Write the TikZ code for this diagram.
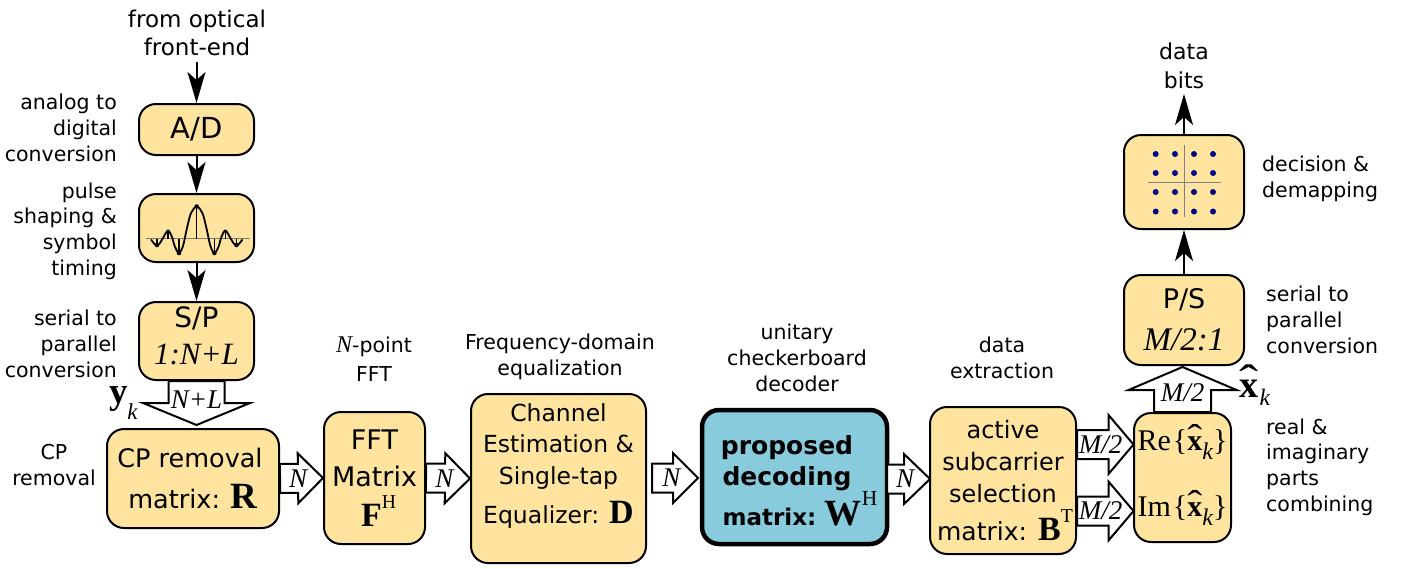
\documentclass[tikz,border=0pt]{standalone}
\usepackage{fontspec}
\setmainfont{DejaVu Sans}
\newfontfamily\serfont{Liberation Serif}
\usetikzlibrary{arrows.meta}
\usetikzlibrary{calc}
\definecolor{boxyellow}{HTML}{FFE49F}
\definecolor{boxblue}{HTML}{87CBDD}
\definecolor{axisgray}{HTML}{80808F}
\definecolor{pulsegray}{HTML}{807B6A}
\newcommand{\fs}[2]{\fontsize{#1}{#2}\selectfont}
\newcommand{\mi}[2]{{\serfont\itshape\fs{#1}{#1}#2}}
\newcommand{\mb}[2]{{\serfont\bfseries\fs{#1}{#1}#2}}
\newcommand{\supchar}[1]{\raisebox{.52em}{\scalebox{.58}{\mdseries #1}}}
\newcommand{\subk}{\raisebox{-.3em}{\scalebox{.8}{\mdseries\itshape k}}}
\newcommand{\subkb}[1]{\raisebox{-#1em}{\scalebox{.62}{\mdseries\itshape k}}}
\newcommand{\xhat}{\ooalign{x\cr\hfil\raisebox{.02em}{\scalebox{1.5}[1.2]{\mdseries\char"02C6}}\hfil\cr}}
\newcommand{\padup}[1]{\rule[-#1pt]{0pt}{#1pt}}
\newcommand{\blockarrow}[7]{%
  \coordinate (#1base) at ($(#3)!#6pt!(#2)$);
  \draw[blockline] ($(#2)!#4pt!90:(#3)$) -- ($(#1base)!#4pt!90:(#3)$) -- ($(#1base)!#5pt!90:(#3)$) -- (#3)
    -- ($(#1base)!#5pt!-90:(#3)$) -- ($(#1base)!#4pt!-90:(#3)$) -- ($(#2)!#4pt!-90:(#3)$) -- cycle;
  \node[arrowtext] (#1) at ($(#2)!.42!(#3)$) {#7};
}
\tikzset{
  block/.style={draw, fill=boxyellow, line width=2pt, rounded corners=17pt, align=center, inner sep=0pt, anchor=center},
  note/.style={font=\fs{20.5}{25.7}, inner sep=0pt, anchor=center},
  blockline/.style={draw, fill=white, line width=2pt, miter limit=10},
  arrowtext/.style={inner sep=0pt, font=\serfont\itshape\fs{27}{27}},
  flow/.style={line width=2pt, -{Stealth[length=31pt,width=18pt,inset=8pt]}},
}
\begin{document}
\begin{tikzpicture}[x=1pt, y=-1pt]
  \useasboundingbox (0, 0) rectangle (1407, 568);
  % blocks
  \node[block, minimum width=115pt, minimum height=51pt, font=\fs{29}{29}] (ad) at (196.5, 129.5) {A/D};
  \node[block, minimum width=115pt, minimum height=68pt] (pulse) at (196.5, 228) {};
  \node[block, minimum width=115pt, minimum height=78pt, font=\fs{28}{37}] (sp) at (196.5, 341) {S/P\\\mi{31}{1:N+L}\padup{11}};
  \node[block, minimum width=172pt, minimum height=99pt, font=\fs{25.5}{41}] (cp) at (193, 478.5) {CP removal\hspace*{6pt}\\matrix: \mb{37}{R}};
  \node[block, minimum width=101pt, minimum height=132pt, font=\fs{27}{37}] (fft) at (374.5, 478) {FFT\\Matrix\\[3pt]\hspace*{8pt}\mb{34}{F}{\serfont\fs{34}{34}\supchar{H}}};
  \node[block, minimum width=175pt, minimum height=169pt, font=\fs{23.5}{31.5}] (eq) at (558.5, 478.5) {Channel\\Estimation \&\\Single-tap\\[8pt]Equalizer: \mb{34}{D}\padup{30}};
  \node[block, fill=boxblue, line width=4.5pt, minimum width=185pt, minimum height=134pt, font=\bfseries\fs{25}{31}] (dec) at (794.5, 477) {\rule{0pt}{26pt}proposed\hspace*{15pt}\\\hspace*{-15pt}decoding\\\hspace*{11pt}{\fs{23}{31}matrix:}\hspace{-3pt} {\serfont\fs{37}{37}W\supchar{H}}};
  \node[block, minimum width=146pt, minimum height=147pt, font=\fs{24}{32}] (sel) at (1003, 480.5) {active\\subcarrier\\selection\\[6pt]\hspace*{4pt}{\fs{25}{32}matrix:}\hspace{1pt} \mb{34}{B}{\serfont\fs{34}{34}\supchar{T}}};
  \node[block, minimum width=97pt, minimum height=129pt, font=\serfont\fs{30}{66}] (comb) at (1182.5, 477.5) {Re\hspace{2pt}\{\mb{30}{\xhat}\subk\}\\Im\hspace{2pt}\{\mb{30}{\xhat}\subk\}};
  \node[block, minimum width=120pt, minimum height=90pt, font=\fs{27}{42}] (ps) at (1184, 320) {P/S\\\mi{33}{M/2:1}};
  \node[block, minimum width=120pt, minimum height=94pt] (map) at (1184, 182) {};
  % pulse
  \draw[pulsegray, line width=1.5pt] (146, 238.5) -- (250, 238.5);
  \foreach \px/\py in {157/245, 168/230.5, 179/253, 196.7/206.5, 214.4/253, 225.4/230.5, 236.4/245}
    \draw[line width=1.4pt] (\px, 238.5) -- (\px, \py);
  \draw[line width=1.8pt] plot[smooth] coordinates {(151,239.5) (154,243.5) (157,245.5) (160,243) (163,238) (168,230.5) (172,237) (175,247) (179,253) (183,246) (187,228) (191,213) (196.7,206.5) (202.4,213) (206.4,228) (210.4,246) (214.4,253) (218.4,247) (221.4,237) (225.4,230.5) (230.4,238) (233.4,243) (236.4,245.5) (239.4,243.5) (242.4,239.5)};
  \foreach \px/\py in {157/245, 179/253, 196.7/206.5, 214.4/253, 236.4/245}
    \fill (\px, \py) circle (2.3);
  % constellation
  \draw[axisgray, line width=1pt] (1148, 182.3) -- (1221, 182.3);
  \draw[axisgray, line width=1pt] (1184.3, 145) -- (1184.3, 217);
  \foreach \px in {1155.7, 1175, 1194, 1213}
    \foreach \py in {154, 173, 192, 211.5}
      \fill[blue!50!black] (\px, \py) circle (3);
  % plain arrows
  \coordinate (in) at (196.5, 62);
  \coordinate (out) at (1184, 94);
  \draw[flow] (in) -- (ad);
  \draw[flow] (ad) -- (pulse);
  \draw[flow] (pulse) -- (sp);
  \draw[flow] (ps) -- (map);
  \draw[flow] (map) -- (out);
  % block arrows
  \coordinate (cpin) at (196.5, 425);
  \blockarrow{spcp}{sp.south}{cpin}{28}{53.5}{22}{N+L}
  \blockarrow{cpfft}{cp.east}{fft.west}{14.5}{25}{25}{N}
  \blockarrow{ffteq}{fft.east}{eq.west}{14.5}{25}{25}{N}
  \coordinate (eqgap) at (652, 478);
  \coordinate (decin) at (698, 478);
  \blockarrow{eqdec}{eqgap}{decin}{14.5}{25}{25}{N}
  \coordinate (decout) at (887, 479);
  \coordinate (selin) at (930, 479);
  \blockarrow{decsel}{decout}{selin}{14.5}{25}{26}{N}
  \coordinate (combreA) at (1133.5, 444.5);
  \coordinate (combimA) at (1133.5, 511);
  \coordinate (selreA) at (sel.east |- combreA);
  \coordinate (selimA) at (sel.east |- combimA);
  \blockarrow{selre}{selreA}{combreA}{14.5}{29.5}{25}{M/2}
  \blockarrow{selim}{selimA}{combimA}{14.5}{29.5}{25}{M/2}
  \coordinate (psin) at (1182.5, 367);
  \blockarrow{combps}{comb.north}{psin}{28.5}{54}{23}{M/2}
  % texts
  \node[note, font=\fs{23}{28}, align=center] (fromtxt) at (197, 33) {from optical\\front-end};
  \node[note, align=right, anchor=east] (adtxt) at (117, 128) {analog to\\digital\\conversion};
  \node[note, align=right, anchor=east] (pulsetxt) at (117, 231) {pulse\\shaping \&\\symbol\\timing};
  \node[note, align=right, anchor=east] (sptxt) at (117, 344) {serial to\\parallel\\conversion};
  \node[note, align=center] (cptxt) at (54, 465) {CP\\removal};
  \node[note, font=\fs{20.5}{29}, align=center] (ffttxt) at (374, 359.5) {\mi{24}{N}-point\\FFT};
  \node[note, align=center] (eqtxt) at (560, 357) {Frequency-domain\\equalization};
  \node[note, align=center] (dectxt) at (797, 358) {unitary\\checkerboard\\decoder};
  \node[note, align=center] (seltxt) at (1002, 358) {data\\extraction};
  \node[note, align=left, anchor=west] (maptxt) at (1262, 179) {decision \&\\demapping};
  \node[note, align=left, anchor=west] (pstxt) at (1266, 320) {serial to\\parallel\\conversion};
  \node[note, align=left, anchor=west] (combtxt) at (1266, 467) {real \&\\imaginary\\parts\\combining};
  \node[note, font=\fs{22}{29}, align=center] (bitstxt) at (1184, 66) {data\\bits};
  \node[inner sep=0pt, font=\serfont\bfseries\fs{37}{37}] (yk) at (123.5, 403) {y\hspace{-.02em}\subkb{.43}};
  \node[inner sep=0pt, font=\serfont\bfseries\fs{38}{38}] (xk) at (1255, 393) {\xhat\hspace{.02em}\subkb{.21}};
\end{tikzpicture}
\end{document}
